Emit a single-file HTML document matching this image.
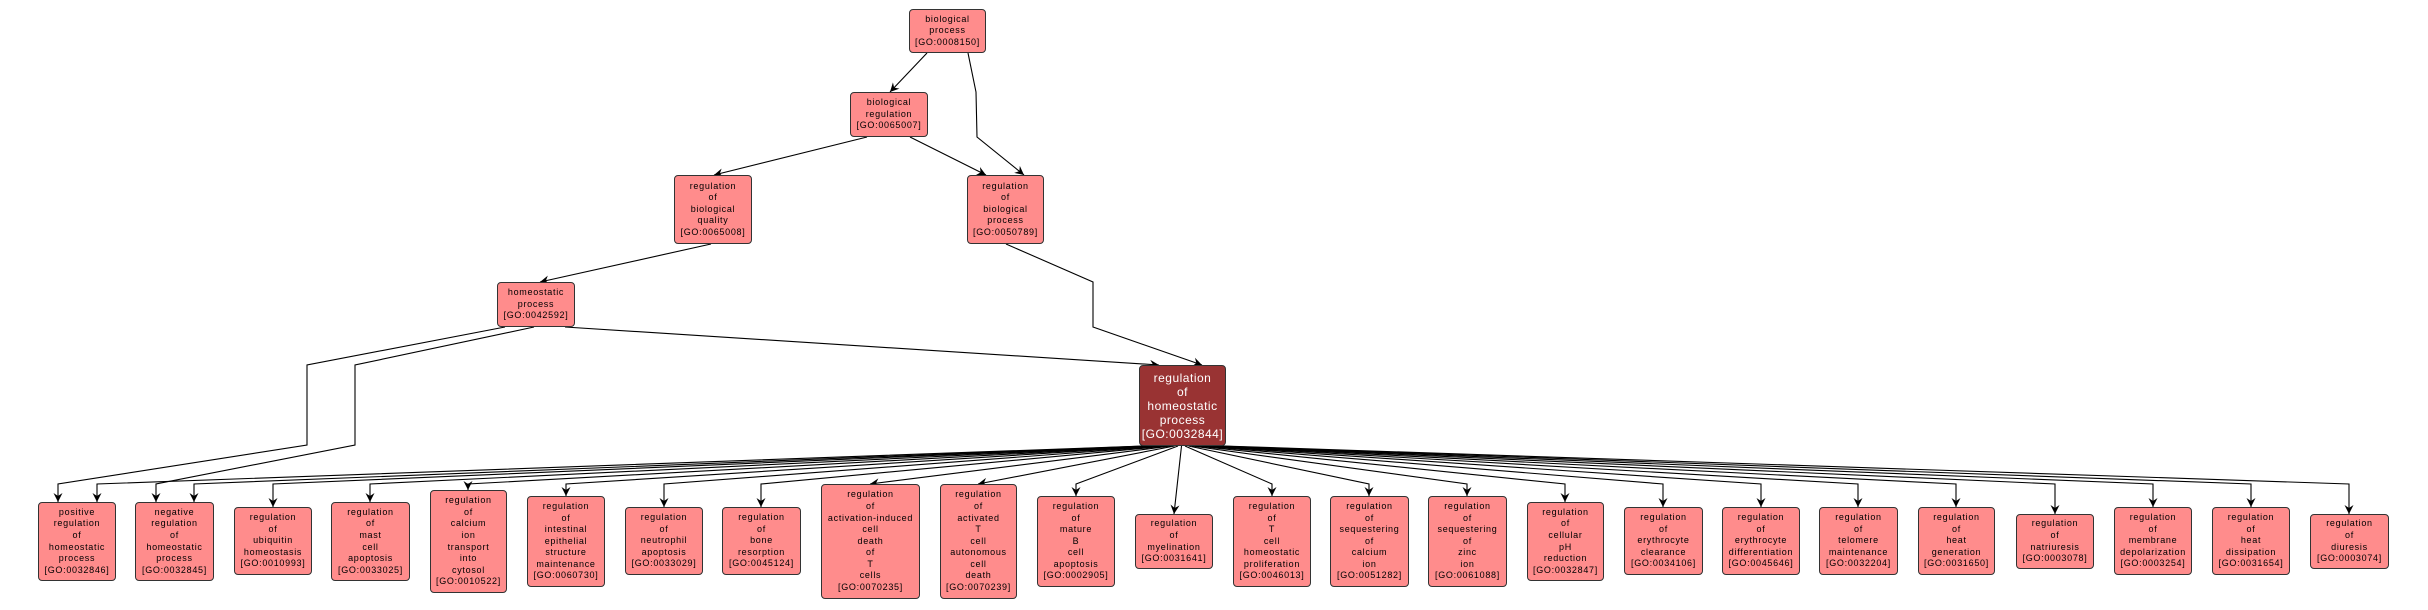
<!DOCTYPE html>
<html><head><meta charset="utf-8"><style>
body{margin:0;width:2428px;height:610px;background:#fff;position:relative;overflow:hidden;font-family:"Liberation Sans",sans-serif}
.n{position:absolute;box-sizing:border-box;background:#ff8c8c;border:1px solid #333;border-radius:4px;display:flex;flex-direction:column;justify-content:center;align-items:center;font-size:9px;line-height:11.6px;letter-spacing:0.7px;color:#000;text-align:center;white-space:nowrap}
.c{background:#993333;color:#fff;font-size:12px;line-height:14px;letter-spacing:0.5px}
svg{position:absolute;left:0;top:0}
</style></head><body>
<svg width="2428" height="610" viewBox="0 0 2428 610">
<defs><marker id="a" markerUnits="userSpaceOnUse" markerWidth="10" markerHeight="10" refX="9" refY="5" orient="auto"><path d="M0,0.5 L9,5 L0,9.5 L3,5 z" fill="#000"/></marker></defs>
<g fill="none" stroke="#000" stroke-width="1.1" marker-end="url(#a)">
<path d="M927,53 L890,92"/>
<path d="M968,53 L976,92 L977,137 L1024,175"/>
<path d="M867,137 L714,175"/>
<path d="M910,137 L986,175"/>
<path d="M711,244 L540,282"/>
<path d="M1006,244 L1093,282 L1093,327 L1202,365"/>
<path d="M565,327 L1159,365"/>
<path d="M505,327 L307,365 L307,445 L58,484 L58,502"/>
<path d="M534,327 L355,365 L355,445 L156,484 L156,502"/>
<path d="M1143,446 L97,484 L97,502"/>
<path d="M1146.5,446 L194,484 L194,502"/>
<path d="M1150,446 L273,484 L273,507"/>
<path d="M1153.5,446 L370,484 L370,502"/>
<path d="M1157,446 L468,484 L468,490"/>
<path d="M1160.5,446 L566,484 L566,496"/>
<path d="M1164,446 L664,484 L664,507"/>
<path d="M1167.5,446 L761,484 L761,507"/>
<path d="M1171,446 L870,484"/>
<path d="M1174.5,446 L978,484"/>
<path d="M1178,446 L1076,484 L1076,496"/>
<path d="M1181.5,446 L1174,514"/>
<path d="M1185,446 L1272,484 L1272,496"/>
<path d="M1188.5,446 L1369,484 L1369,496"/>
<path d="M1192,446 L1467,484 L1467,496"/>
<path d="M1195.5,446 L1565,484 L1565,502"/>
<path d="M1199,446 L1663,484 L1663,507"/>
<path d="M1202.5,446 L1761,484 L1761,507"/>
<path d="M1206,446 L1858,484 L1858,507"/>
<path d="M1209.5,446 L1956,484 L1956,507"/>
<path d="M1213,446 L2055,484 L2055,514"/>
<path d="M1216.5,446 L2153,484 L2153,507"/>
<path d="M1220,446 L2251,484 L2251,507"/>
<path d="M1223.5,446 L2349,484 L2349,514"/>
</g></svg>
<div class="n" style="left:909px;top:9px;width:77px;height:44px">biological<br>process<br>[GO:0008150]</div>
<div class="n" style="left:850px;top:92px;width:78px;height:45px">biological<br>regulation<br>[GO:0065007]</div>
<div class="n" style="left:674px;top:175px;width:78px;height:69px">regulation<br>of<br>biological<br>quality<br>[GO:0065008]</div>
<div class="n" style="left:967px;top:175px;width:77px;height:69px">regulation<br>of<br>biological<br>process<br>[GO:0050789]</div>
<div class="n" style="left:497px;top:282px;width:78px;height:45px">homeostatic<br>process<br>[GO:0042592]</div>
<div class="n c" style="left:1139px;top:365px;width:87px;height:81px">regulation<br>of<br>homeostatic<br>process<br>[GO:0032844]</div>
<div class="n" style="left:38px;top:502px;width:78px;height:79px">positive<br>regulation<br>of<br>homeostatic<br>process<br>[GO:0032846]</div>
<div class="n" style="left:135px;top:502px;width:79px;height:79px">negative<br>regulation<br>of<br>homeostatic<br>process<br>[GO:0032845]</div>
<div class="n" style="left:234px;top:507px;width:78px;height:68px">regulation<br>of<br>ubiquitin<br>homeostasis<br>[GO:0010993]</div>
<div class="n" style="left:331px;top:502px;width:79px;height:79px">regulation<br>of<br>mast<br>cell<br>apoptosis<br>[GO:0033025]</div>
<div class="n" style="left:430px;top:490px;width:77px;height:103px">regulation<br>of<br>calcium<br>ion<br>transport<br>into<br>cytosol<br>[GO:0010522]</div>
<div class="n" style="left:527px;top:496px;width:78px;height:91px">regulation<br>of<br>intestinal<br>epithelial<br>structure<br>maintenance<br>[GO:0060730]</div>
<div class="n" style="left:625px;top:507px;width:78px;height:68px">regulation<br>of<br>neutrophil<br>apoptosis<br>[GO:0033029]</div>
<div class="n" style="left:722px;top:507px;width:79px;height:68px">regulation<br>of<br>bone<br>resorption<br>[GO:0045124]</div>
<div class="n" style="left:821px;top:484px;width:99px;height:115px">regulation<br>of<br>activation-induced<br>cell<br>death<br>of<br>T<br>cells<br>[GO:0070235]</div>
<div class="n" style="left:940px;top:484px;width:77px;height:115px">regulation<br>of<br>activated<br>T<br>cell<br>autonomous<br>cell<br>death<br>[GO:0070239]</div>
<div class="n" style="left:1037px;top:496px;width:78px;height:91px">regulation<br>of<br>mature<br>B<br>cell<br>apoptosis<br>[GO:0002905]</div>
<div class="n" style="left:1135px;top:514px;width:78px;height:55px">regulation<br>of<br>myelination<br>[GO:0031641]</div>
<div class="n" style="left:1233px;top:496px;width:78px;height:91px">regulation<br>of<br>T<br>cell<br>homeostatic<br>proliferation<br>[GO:0046013]</div>
<div class="n" style="left:1330px;top:496px;width:79px;height:91px">regulation<br>of<br>sequestering<br>of<br>calcium<br>ion<br>[GO:0051282]</div>
<div class="n" style="left:1428px;top:496px;width:79px;height:91px">regulation<br>of<br>sequestering<br>of<br>zinc<br>ion<br>[GO:0061088]</div>
<div class="n" style="left:1527px;top:502px;width:77px;height:79px">regulation<br>of<br>cellular<br>pH<br>reduction<br>[GO:0032847]</div>
<div class="n" style="left:1624px;top:507px;width:79px;height:68px">regulation<br>of<br>erythrocyte<br>clearance<br>[GO:0034106]</div>
<div class="n" style="left:1722px;top:507px;width:78px;height:68px">regulation<br>of<br>erythrocyte<br>differentiation<br>[GO:0045646]</div>
<div class="n" style="left:1819px;top:507px;width:79px;height:68px">regulation<br>of<br>telomere<br>maintenance<br>[GO:0032204]</div>
<div class="n" style="left:1918px;top:507px;width:77px;height:68px">regulation<br>of<br>heat<br>generation<br>[GO:0031650]</div>
<div class="n" style="left:2016px;top:514px;width:78px;height:55px">regulation<br>of<br>natriuresis<br>[GO:0003078]</div>
<div class="n" style="left:2114px;top:507px;width:78px;height:68px">regulation<br>of<br>membrane<br>depolarization<br>[GO:0003254]</div>
<div class="n" style="left:2212px;top:507px;width:78px;height:68px">regulation<br>of<br>heat<br>dissipation<br>[GO:0031654]</div>
<div class="n" style="left:2310px;top:514px;width:79px;height:55px">regulation<br>of<br>diuresis<br>[GO:0003074]</div>
</body></html>
